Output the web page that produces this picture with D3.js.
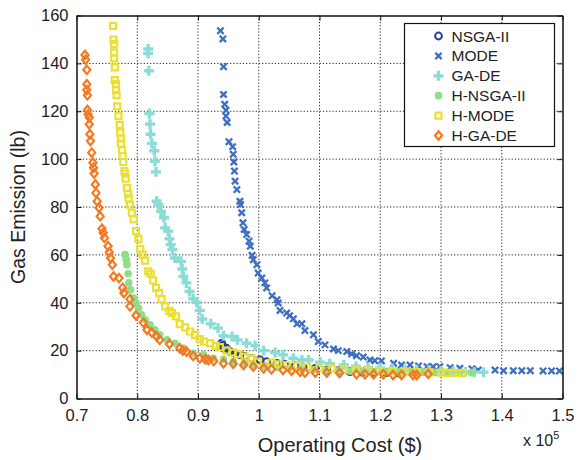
<!DOCTYPE html>
<html>
<head>
<meta charset="utf-8">
<script src="https://cdn.jsdelivr.net/npm/d3@7"></script>
<style>
  body { margin: 0; background: #fff; }
  svg { font-family: "Liberation Sans", Arial, Helvetica, sans-serif; }
  .grid line { stroke: #222; stroke-dasharray: 1.2,2; stroke-width: 1; }
  .axis path, .axis line { stroke: #111; }
  .axis text { font-size: 16.5px; fill: #222; }
</style>
</head>
<body>
<div id="chart"></div>
<script>
// operating cost in units of 1e5 $, gas emission in lb
const nsga2 = [[0.939,23.1],[0.940,22.2],[0.942,21.0],[0.947,21.0],[0.953,19.6],[0.961,18.8],[0.969,18.2],
  [0.977,17.6],[0.988,16.8],[1.002,16.1],[1.013,15.4],[1.030,14.7],[1.043,14.2],[1.060,13.6],[1.073,13.1],
  [1.093,12.6],[1.112,11.9],[1.131,11.6],[1.150,11.2],[1.170,11.0],[1.190,10.9],[1.210,10.8],[1.230,10.7]];

const mode = [[0.937,153.6],[0.941,150.2],[0.942,138.6],[0.942,127.0],[0.944,122.9],[0.946,120.4],[0.946,118.0],
  [0.948,115.3],[0.951,107.3],[0.957,105.2],[0.958,102.0],[0.959,98.8],[0.960,95.0],[0.961,90.8],[0.964,87.3],
  [0.969,82.4],[0.970,81.0],[0.972,77.6],[0.974,73.4],[0.976,70.6],[0.980,68.5],[0.984,65.7],[0.986,63.6],
  [0.989,59.8],[0.991,58.0],[0.997,55.9],[0.999,52.4],[1.005,50.3],[1.010,48.3],[1.013,46.2],[1.022,42.9],
  [1.030,41.3],[1.032,39.9],[1.035,36.8],[1.046,35.7],[1.051,34.6],[1.057,33.3],[1.063,31.2],[1.071,31.2],
  [1.076,28.4],[1.090,26.6],[1.098,23.8],[1.109,22.4],[1.123,20.7],[1.131,20.0],[1.145,19.6],[1.153,18.6],
  [1.161,17.9],[1.172,17.3],[1.183,16.1],[1.191,15.8],[1.202,15.7],[1.222,14.7],[1.235,14.0],[1.249,14.0],
  [1.263,13.6],[1.277,13.3],[1.287,13.3],[1.298,13.3],[1.315,12.9],[1.331,12.6],[1.351,12.4],[1.361,11.9],
  [1.389,11.9],[1.403,11.6],[1.419,11.6],[1.433,11.6],[1.447,11.6],[1.468,11.5],[1.482,11.5],[1.495,11.5]];

const gade = [[0.818,146.0],[0.818,144.2],[0.819,136.9],[0.820,119.0],[0.821,114.6],[0.822,110.4],[0.824,106.6],
  [0.828,103.5],[0.829,99.1],[0.831,94.7],[0.832,82.4],[0.835,81.0],[0.839,78.2],[0.844,75.5],[0.846,71.3],
  [0.851,69.9],[0.853,66.7],[0.855,64.3],[0.858,62.2],[0.862,58.7],[0.872,57.3],[0.874,54.1],[0.876,51.0],
  [0.881,48.3],[0.886,44.7],[0.892,41.6],[0.898,40.1],[0.903,36.8],[0.907,33.2],[0.921,31.2],[0.933,29.4],
  [0.942,26.2],[0.956,25.9],[0.965,24.5],[0.980,23.1],[0.994,22.1],[1.008,20.0],[1.027,19.2],[1.040,18.2],
  [1.057,16.8],[1.071,16.1],[1.082,16.1],[1.101,15.2],[1.117,14.5],[1.140,14.0],[1.160,13.5],[1.180,13.0],
  [1.200,12.8],[1.220,12.5],[1.240,12.2],[1.260,12.0],[1.280,11.8],[1.300,11.5],[1.320,11.3],[1.340,11.1],
  [1.355,11.0],[1.370,11.0]];

const hnsga2 = [[0.780,60.1],[0.782,58.0],[0.783,55.9],[0.785,52.1],[0.786,48.3],[0.789,45.4],[0.794,42.0],
  [0.798,39.9],[0.802,37.8],[0.807,35.0],[0.813,32.9],[0.821,30.8],[0.829,28.7],[0.837,26.6],[0.849,24.5],
  [0.862,23.1],[0.876,21.0],[0.892,18.9],[0.909,18.2],[0.925,16.8],[0.942,16.4],[0.958,15.4],[0.977,14.7],
  [0.991,14.0],[1.010,13.5],[1.030,13.0],[1.050,12.6],[1.070,12.3],[1.090,12.0],[1.110,11.8],[1.130,11.6],
  [1.150,11.4],[1.170,11.3],[1.190,11.2],[1.210,11.1],[1.230,11.0],[1.250,11.0],[1.270,10.9],[1.290,10.9],
  [1.310,10.8],[1.330,10.8],[1.350,10.8]];

const hmode = [[0.760,155.7],[0.761,149.9],[0.762,148.1],[0.762,144.6],[0.762,142.1],[0.763,138.3],[0.763,133.0],
  [0.765,131.3],[0.765,128.8],[0.766,126.7],[0.767,122.0],[0.769,118.0],[0.771,114.3],[0.772,111.1],[0.773,108.7],
  [0.773,106.5],[0.775,103.8],[0.776,101.3],[0.777,98.8],[0.779,95.0],[0.780,93.9],[0.781,91.8],[0.783,88.0],
  [0.785,85.5],[0.786,83.6],[0.788,81.0],[0.791,77.6],[0.794,74.8],[0.798,69.9],[0.802,66.7],[0.805,62.5],
  [0.809,60.1],[0.813,57.6],[0.818,53.1],[0.822,52.1],[0.826,49.3],[0.831,46.2],[0.836,44.1],[0.840,41.5],
  [0.846,38.5],[0.853,36.6],[0.857,35.7],[0.864,34.3],[0.870,31.1],[0.879,29.7],[0.887,28.0],[0.895,26.6],
  [0.903,24.8],[0.910,23.8],[0.920,23.1],[0.929,22.0],[0.936,21.4],[0.947,20.0],[0.957,19.2],[0.966,18.5],
  [0.977,17.5],[0.988,16.8],[0.999,15.4],[1.021,15.0],[1.032,14.3],[1.046,14.0],[1.063,13.6],[1.080,13.2],
  [1.100,12.9],[1.120,12.6],[1.140,12.3],[1.160,12.0],[1.180,11.8],[1.200,11.6],[1.220,11.4],[1.240,11.2],
  [1.260,11.0],[1.280,10.9],[1.300,10.8],[1.310,10.7],[1.320,10.7],[1.335,10.6]];

const hgade = [[0.714,143.5],[0.715,141.5],[0.717,137.3],[0.717,131.3],[0.717,128.9],[0.718,126.7],[0.718,120.5],
  [0.719,118.7],[0.721,117.4],[0.721,114.6],[0.722,110.4],[0.723,107.6],[0.725,102.7],[0.727,98.5],[0.728,96.4],
  [0.729,94.0],[0.731,89.4],[0.732,85.9],[0.734,82.4],[0.737,79.7],[0.739,76.1],[0.742,70.9],[0.744,69.2],
  [0.746,67.1],[0.752,63.6],[0.754,61.1],[0.756,58.7],[0.759,55.9],[0.761,51.0],[0.770,50.3],[0.776,46.2],
  [0.778,44.1],[0.788,41.5],[0.788,38.5],[0.798,34.7],[0.810,31.7],[0.816,28.7],[0.824,27.6],[0.832,25.9],
  [0.837,24.5],[0.853,22.8],[0.870,21.0],[0.875,20.0],[0.881,19.6],[0.892,17.8],[0.903,16.8],[0.912,16.4],
  [0.917,16.1],[0.926,15.7],[0.942,14.7],[0.958,14.5],[0.975,14.0],[0.991,13.3],[1.008,12.6],[1.021,12.2],
  [1.040,11.9],[1.054,11.6],[1.068,11.2],[1.076,10.8],[1.093,10.8],[1.112,10.8],[1.133,10.6],[1.161,10.1],
  [1.175,10.1],[1.189,10.1],[1.205,10.1],[1.221,9.8],[1.235,9.8],[1.254,9.8],[1.260,9.8],[1.279,10.3]];

const seriesNames = ['NSGA-II', 'MODE', 'GA-DE', 'H-NSGA-II', 'H-MODE', 'H-GA-DE'];
const xTicks = [0.7, 0.8, 0.9, 1.0, 1.1, 1.2, 1.3, 1.4, 1.5];
const yTicks = [0, 20, 40, 60, 80, 100, 120, 140, 160];

// matlab-like diamond, a bit taller than wide
const diamond = {
  draw(ctx, size) {
    const hw = Math.sqrt(size) * 0.5, hh = hw * 1.2;
    ctx.moveTo(0, -hh); ctx.lineTo(hw, 0); ctx.lineTo(0, hh); ctx.lineTo(-hw, 0); ctx.closePath();
  }
};

// marker style per series
const styles = [
  {data: nsga2,  symbol: d3.symbolCircle,  size: 36, fill: 'none',    stroke: '#2a3d9a', sw: 2},
  {data: mode,   symbol: d3.symbolTimes,   size: 28, fill: 'none',    stroke: '#3f6fc0', sw: 2.3},
  {data: gade,   symbol: d3.symbolCross,   size: 56, fill: '#8adcd6', stroke: 'none',    sw: 0},
  {data: hnsga2, symbol: d3.symbolCircle,  size: 46, fill: '#8ede8a', stroke: 'none',    sw: 0},
  {data: hmode,  symbol: d3.symbolSquare,  size: 36, fill: 'none',    stroke: '#ebe030', sw: 2.2},
  {data: hgade,  symbol: diamond,          size: 50, fill: 'none',    stroke: '#f37a22', sw: 2.2}
];

const width = 579, height = 460;
const margin = {top: 15.5, right: 16.5, bottom: 61.5, left: 76.5};
const w = width - margin.left - margin.right;
const h = height - margin.top - margin.bottom;

const svg = d3.select('#chart').append('svg')
  .attr('width', width)
  .attr('height', height);

const chart = svg.append('g')
  .attr('transform', `translate(${margin.left},${margin.top})`);

const xScale = d3.scaleLinear().domain([0.7, 1.5]).range([0, w]);
const yScale = d3.scaleLinear().domain([0, 160]).range([h, 0]);

// dotted grid
chart.append('g').attr('class', 'grid')
  .selectAll('line').data(xTicks.slice(1, -1)).join('line')
  .attr('x1', d => xScale(d)).attr('x2', d => xScale(d))
  .attr('y1', 0).attr('y2', h);
chart.append('g').attr('class', 'grid')
  .selectAll('line').data(yTicks.slice(1, -1)).join('line')
  .attr('y1', d => yScale(d)).attr('y2', d => yScale(d))
  .attr('x1', 0).attr('x2', w);

// markers
styles.forEach(s => {
  const sym = d3.symbol().type(s.symbol).size(s.size);
  chart.append('g').selectAll('path').data(s.data).join('path')
    .attr('transform', d => `translate(${xScale(d[0])},${yScale(d[1])})`)
    .attr('d', sym)
    .attr('fill', s.fill)
    .attr('stroke', s.stroke)
    .attr('stroke-width', s.sw);
});

const fmt = d => String(+d.toFixed(1));

// axes, ticks inward like matlab
chart.append('g').attr('class', 'axis')
  .attr('transform', `translate(0,${h})`)
  .call(d3.axisBottom(xScale).tickValues(xTicks).tickFormat(fmt).tickSizeInner(-5).tickSizeOuter(0).tickPadding(11));
chart.append('g').attr('class', 'axis')
  .call(d3.axisTop(xScale).tickValues(xTicks).tickFormat('').tickSizeInner(-5).tickSizeOuter(0));
chart.append('g').attr('class', 'axis')
  .call(d3.axisLeft(yScale).tickValues(yTicks).tickSizeInner(-5).tickSizeOuter(0).tickPadding(8));
chart.append('g').attr('class', 'axis')
  .attr('transform', `translate(${w},0)`)
  .call(d3.axisRight(yScale).tickValues(yTicks).tickFormat('').tickSizeInner(-5).tickSizeOuter(0));

chart.selectAll('.axis .domain').attr('stroke-width', 1.5);

// axis titles
svg.append('text')
  .attr('x', 340).attr('y', 452)
  .attr('text-anchor', 'middle')
  .style('font-size', '20px').style('fill', '#222')
  .text('Operating Cost ($)');

svg.append('text')
  .attr('transform', 'rotate(-90)')
  .attr('x', -207).attr('y', 25)
  .attr('text-anchor', 'middle')
  .style('font-size', '19.5px').style('fill', '#222')
  .text('Gas Emission (lb)');

const expo = svg.append('text')
  .attr('x', 523).attr('y', 446)
  .style('font-size', '16px').style('fill', '#222');
expo.append('tspan').text('x 10');
expo.append('tspan').attr('dy', -7).style('font-size', '11px').text('5');

// legend
const legend = svg.append('g').attr('transform', 'translate(404.5,23.5)');
legend.append('rect')
  .attr('width', 150).attr('height', 123)
  .attr('fill', '#fff').attr('stroke', '#111').attr('stroke-width', 1.2);

const legItems = legend.selectAll('g.item').data(styles).join('g')
  .attr('class', 'item')
  .attr('transform', (d, i) => `translate(34,${12.5 + i * 19.9})`);
legItems.append('path')
  .attr('d', d => d3.symbol().type(d.symbol).size(d.size)())
  .attr('fill', d => d.fill)
  .attr('stroke', d => d.stroke)
  .attr('stroke-width', d => d.sw);
legItems.append('text')
  .attr('x', 13).attr('dy', '0.36em')
  .style('font-size', '15.5px').style('fill', '#222')
  .text((d, i) => seriesNames[i]);
</script>
</body>
</html>
